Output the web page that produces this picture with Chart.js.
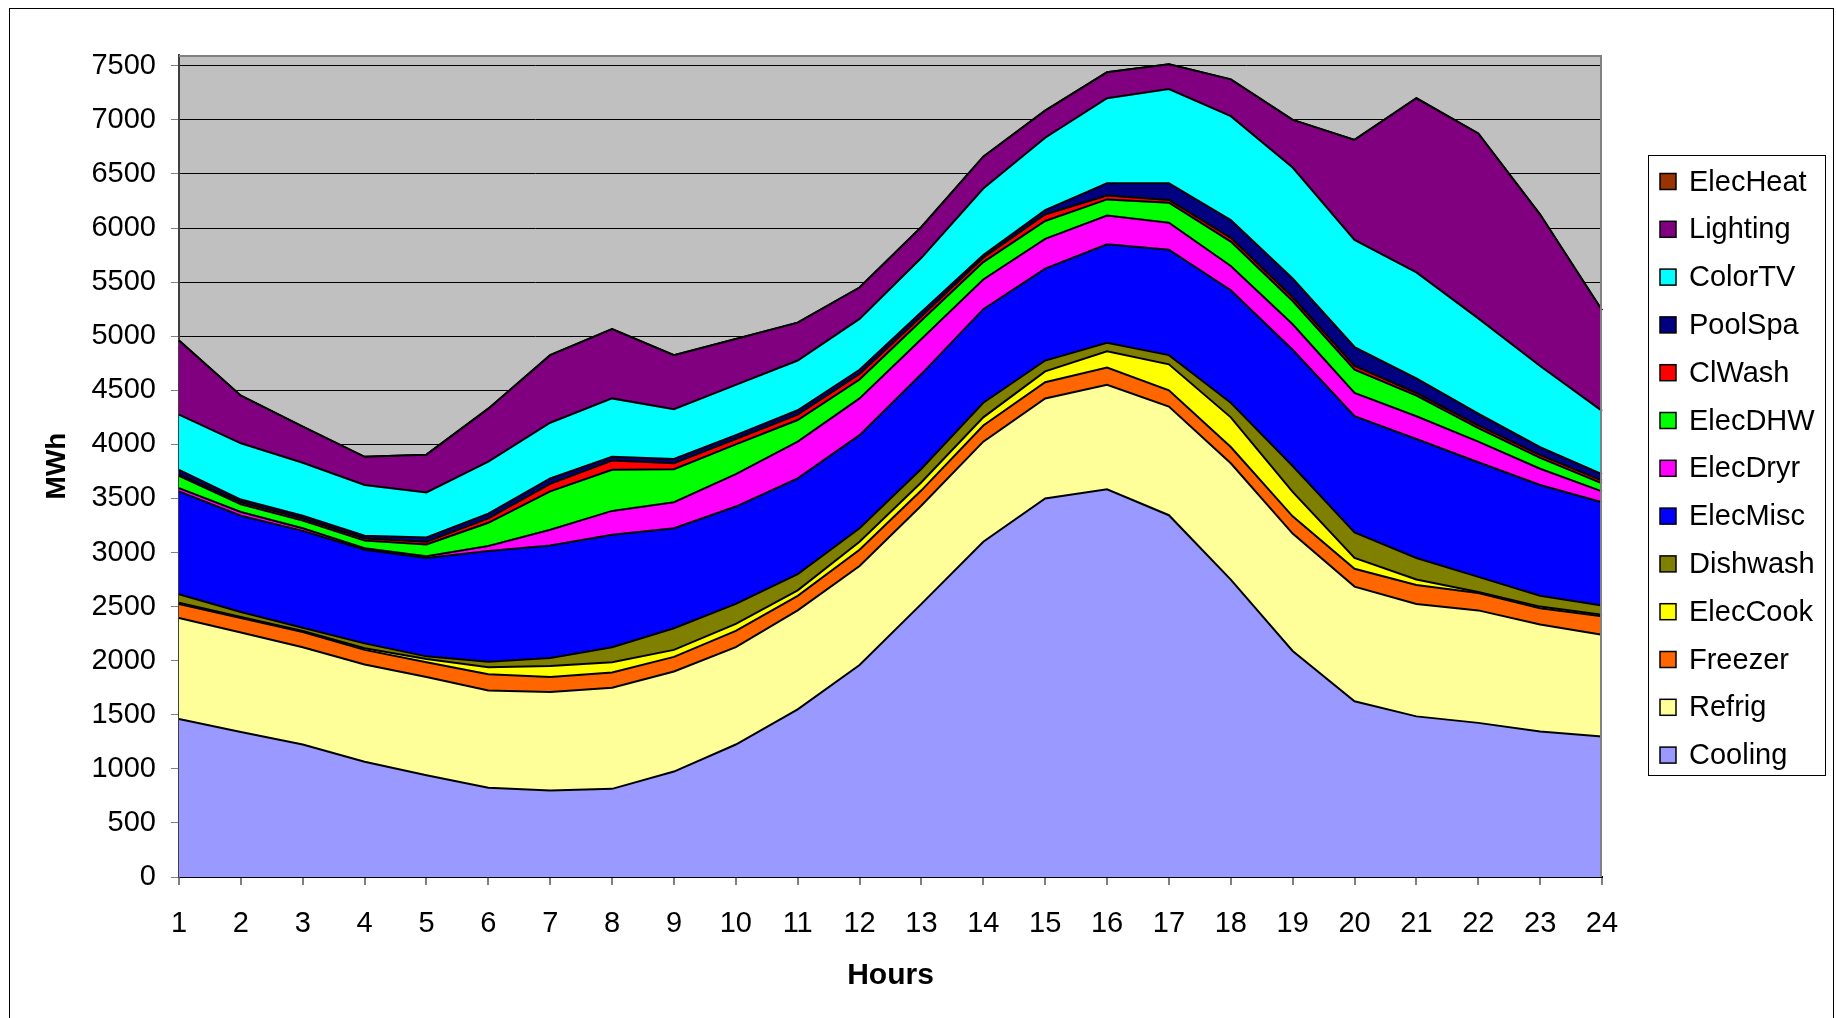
<!DOCTYPE html>
<html>
<head>
<meta charset="utf-8">
<script src="https://cdn.jsdelivr.net/npm/chart.js@4.4.1/dist/chart.umd.min.js"></script>
<style>
  html, body { margin: 0; padding: 0; background: #fff; }
  #wrap { position: relative; width: 1836px; height: 1018px; overflow: hidden; }
</style>
</head>
<body>
<div id="wrap"><canvas id="c" width="1836" height="1018"></canvas></div>
<script>
const hours = ['1','2','3','4','5','6','7','8','9','10','11','12','13','14','15','16','17','18','19','20','21','22','23','24'];
const yTickValues = [0,500,1000,1500,2000,2500,3000,3500,4000,4500,5000,5500,6000,6500,7000,7500];

const cooling  = [1460,1340,1225,1065,940,825,800,815,975,1225,1550,1960,2525,3100,3500,3585,3345,2750,2090,1625,1485,1425,1345,1300];
const refrig   = [935,920,900,900,910,900,910,935,925,900,915,915,910,925,925,965,1005,1075,1085,1060,1040,1040,990,940];
const freezer  = [130,135,140,135,135,150,140,140,135,150,135,150,140,150,150,160,150,150,160,165,175,160,150,170];
const elecCook = [10,10,10,15,30,65,100,95,65,65,50,75,75,75,100,150,240,275,225,100,50,10,15,15];
const dishwash = [80,45,30,45,25,50,75,140,200,185,150,125,125,135,100,80,85,135,240,235,200,140,100,85];
const elecMisc = [950,890,895,865,910,1025,1040,1040,925,900,885,860,875,865,850,910,975,1040,1075,1075,1100,1060,1025,955];
const elecDryr = [30,35,25,15,15,45,145,220,240,300,340,340,325,275,275,265,250,225,235,215,210,190,150,100];
const elecDHW  = [115,70,70,70,110,215,355,380,305,275,200,175,170,160,165,150,185,225,215,215,190,125,100,75];
const clWash   = [15,20,20,20,25,40,70,85,55,50,50,50,40,40,60,35,25,35,35,35,25,25,25,25];
const poolSpa  = [40,25,25,25,40,45,50,35,40,35,40,40,40,25,40,115,155,165,175,175,135,110,75,60];
const colorTV  = [510,520,490,470,415,480,515,540,460,465,460,470,500,615,670,785,870,960,1025,990,980,880,750,585];
const lighting = [685,440,335,260,350,490,625,640,500,425,350,290,285,295,250,240,230,340,440,925,1610,1710,1400,930];
const elecHeat = [0,0,0,0,0,0,0,0,0,0,0,0,0,0,0,0,0,0,0,0,0,0,0,0];

const seriesNames = ['Cooling','Refrig','Freezer','ElecCook','Dishwash','ElecMisc','ElecDryr','ElecDHW','ClWash','PoolSpa','ColorTV','Lighting','ElecHeat'];
const seriesData  = [cooling, refrig, freezer, elecCook, dishwash, elecMisc, elecDryr, elecDHW, clWash, poolSpa, colorTV, lighting, elecHeat];
const seriesColors = ['#9999FF','#FFFF99','#FF6600','#FFFF00','#808000','#0000FF','#FF00FF','#00FF00','#FF0000','#000080','#00FFFF','#800080','#993300'];

const FONT = '"Liberation Sans", Arial, Helvetica, sans-serif';

const datasets = seriesNames.map((name, i) => ({
  label: name,
  data: seriesData[i],
  backgroundColor: seriesColors[i],
  borderColor: '#000000',
  borderWidth: 2,
  fill: i === 0 ? 'origin' : '-1',
  pointRadius: 0,
  tension: 0
}));

const bgPlugin = {
  id: 'plotBg',
  beforeDraw(chart) {
    const {ctx, chartArea: a} = chart;
    ctx.save();
    ctx.fillStyle = '#ffffff';
    ctx.fillRect(0, 0, chart.width, chart.height);
    ctx.fillStyle = '#C0C0C0';
    ctx.fillRect(a.left, a.top, a.right - a.left, a.bottom - a.top);
    ctx.restore();
  },
  afterDraw(chart) {
    const {ctx, chartArea: a} = chart;
    ctx.save();
    ctx.strokeStyle = '#808080';
    ctx.lineWidth = 2;
    ctx.beginPath();
    ctx.moveTo(a.left, a.top + 1);
    ctx.lineTo(a.right - 1, a.top + 1);
    ctx.lineTo(a.right - 1, a.bottom);
    ctx.stroke();
    // outer frame
    ctx.strokeStyle = '#000000';
    ctx.lineWidth = 1;
    ctx.strokeRect(9.5, 8.5, 1824, 1100);
    ctx.restore();
  }
};

const legendPlugin = {
  id: 'boxLegend',
  afterDraw(chart) {
    const {ctx} = chart;
    const ds = chart.data.datasets.slice().reverse();
    const x0 = 1648, y0 = 155, w = 177, h = 620;
    ctx.save();
    ctx.fillStyle = '#ffffff';
    ctx.fillRect(x0, y0, w, h);
    ctx.strokeStyle = '#000000';
    ctx.lineWidth = 1;
    ctx.strokeRect(x0 + 0.5, y0 + 0.5, w, h);
    ctx.font = '29px ' + FONT;
    ctx.textBaseline = 'middle';
    ctx.textAlign = 'left';
    ds.forEach((d, i) => {
      const cy = 181.5 + i * 47.8;
      ctx.fillStyle = d.backgroundColor;
      ctx.fillRect(1660, cy - 8, 16, 16);
      ctx.strokeStyle = '#000';
      ctx.lineWidth = 1.5;
      ctx.strokeRect(1660, cy - 8, 16, 16);
      ctx.fillStyle = '#000';
      ctx.fillText(d.label, 1689, cy + 1);
    });
    ctx.restore();
  }
};

new Chart(document.getElementById('c'), {
  type: 'line',
  data: { labels: hours, datasets },
  options: {
    responsive: false,
    animation: false,
    layout: { padding: { left: 0, right: 234, top: 55, bottom: 0 } },
    plugins: {
      legend: { display: false },
      tooltip: { enabled: false },
      filler: { propagate: false }
    },
    scales: {
      x: {
        type: 'category',
        offset: false,
        grid: { drawOnChartArea: false, drawTicks: true, tickLength: 8, tickColor: '#808080', lineWidth: 2 },
        border: { color: '#000000', width: 2 },
        ticks: { font: { family: FONT, size: 29 }, color: '#000000', padding: 22, maxRotation: 0, autoSkip: false },
        title: { display: true, text: 'Hours', color: '#000000', font: { family: FONT, size: 30, weight: 'bold' }, padding: { top: 0, bottom: 24 } },
        afterFit(s) { s.height = 141; }
      },
      y: {
        stacked: true,
        min: 0,
        max: 7600,
        afterBuildTicks(s) { s.ticks = yTickValues.map(v => ({ value: v })); },
        grid: { color: '#000000', lineWidth: 1, tickColor: '#808080', tickLength: 8 },
        border: { color: '#404040', width: 2 },
        ticks: { font: { family: FONT, size: 29 }, color: '#000000', padding: 15, callback: v => String(v) },
        title: { display: true, text: 'MWh', color: '#000000', font: { family: FONT, size: 28, weight: 'bold' }, padding: { top: 40, bottom: 0 } },
        afterFit(s) { s.width = 179; }
      }
    }
  },
  plugins: [bgPlugin, legendPlugin]
});
</script>
</body>
</html>
